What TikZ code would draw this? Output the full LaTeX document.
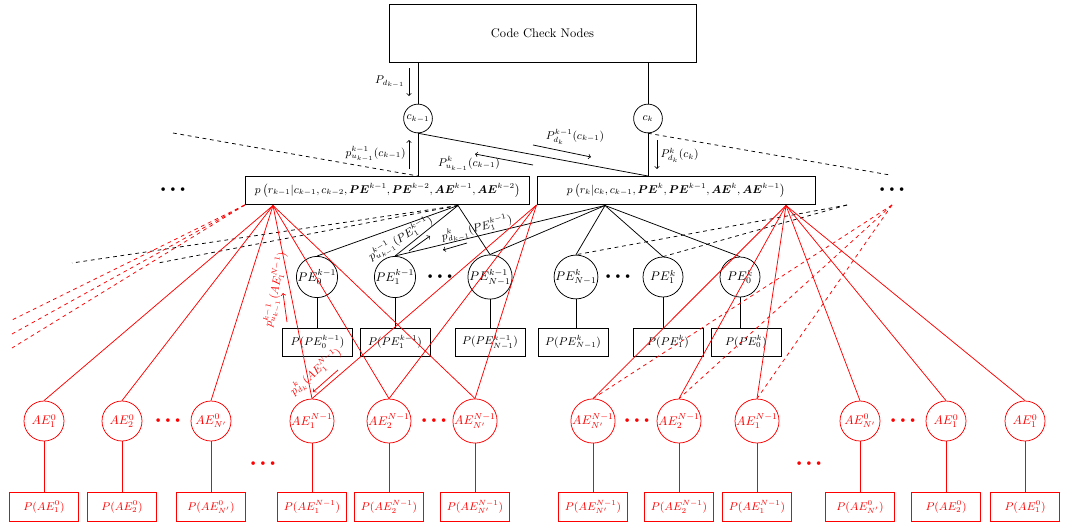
\documentclass[tikz,border=0pt]{standalone}
\usepackage{amsmath,bm}
\begin{document}
\begin{tikzpicture}[x=0.8pt,y=-0.8pt,
  every node/.style={font=\small},
  box/.style={draw,thick,rectangle,inner sep=1pt},
  cn/.style={draw,semithick,circle,minimum size=23pt,inner sep=0pt},
  pe/.style={draw,semithick,circle,minimum size=32pt,inner sep=0pt,font=\normalsize},
  pbox/.style={draw,thick,minimum width=56pt,minimum height=22.4pt,inner sep=1pt},
  ae/.style={draw=red,text=red,semithick,circle,minimum size=32pt,inner sep=0pt,font=\normalsize},
  abox/.style={draw=red,text=red,thick,minimum width=55pt,minimum height=23pt,inner sep=1pt},
  ln/.style={semithick},
  rln/.style={semithick,red},
  dln/.style={semithick,dashed},
  rdln/.style={semithick,red,dashed},
  lab/.style={inner sep=1pt},
  rlab/.style={inner sep=1pt,text=red},
  arr/.style={semithick,->},
  rarr/.style={semithick,->,red},
  dotsn/.style={inner sep=0pt,font=\normalsize},
  rdotsn/.style={inner sep=0pt,text=red,font=\normalsize}
]
\useasboundingbox (0,0) rectangle (1069,526);

% top
\node[box,minimum width=245.6pt,minimum height=46.4pt,font=\normalsize] (ccn) at (542.5,33) {Code Check Nodes};
\node[cn] (ckm1) at (418,118.5) {$c_{k-1}$};
\node[cn] (ck) at (648,118.5) {$c_k$};

% factor boxes
\node[box,minimum width=227.5pt,minimum height=22.4pt] (fl) at (387.5,190.5)
  {$p\left(r_{k-1}|c_{k-1},c_{k-2},\bm{PE}^{k-1},\bm{PE}^{k-2},\bm{AE}^{k-1},\bm{AE}^{k-2}\right)$};
\node[box,minimum width=222.4pt,minimum height=22.4pt] (fr) at (676,190.5)
  {$p\left(r_k|c_k,c_{k-1},\bm{PE}^k,\bm{PE}^{k-1},\bm{AE}^k,\bm{AE}^{k-1}\right)$};

\node[dotsn] (dl) at (173,190) {\textbullet\textbullet\textbullet};
\node[dotsn] (dr) at (892,190) {\textbullet\textbullet\textbullet};

% connection points
\coordinate (flred) at (273,205.5);
\coordinate (flblk) at (458,205.5);
\coordinate (frred) at (fr.south west);
\coordinate (frblk) at (605,205.5);
\coordinate (frred2) at (786,205.5);
\coordinate (frdash) at (847,205);
\coordinate (rdash) at (892,205);
\coordinate (ld1) at (12,320);
\coordinate (ld2) at (12,334);
\coordinate (ld3) at (12,348);
\coordinate (lb1) at (72,263);
\coordinate (lb2) at (158,263);
\coordinate (tl) at (173,133);
\coordinate (tr) at (890,175);

% PE nodes
\node[pe] (pe0a) at (317,277) {$PE_0^{k-1}$};
\node[pe] (pe1a) at (395,277) {$PE_1^{k-1}$};
\node[pe] (peNa) at (490,277) {$PE_{N-1}^{k-1}$};
\node[pe] (peNb) at (576,277) {$PE_{N-1}^{k}$};
\node[pe] (pe1b) at (663,277) {$PE_1^{k}$};
\node[pe] (pe0b) at (740,277) {$PE_0^{k}$};
\node[dotsn] (dpa) at (440,277) {\textbullet\textbullet\textbullet};
\node[dotsn] (dpb) at (618,277) {\textbullet\textbullet\textbullet};

\node[pbox] (pp0a) at (317.5,342) {$P(PE_0^{k-1})$};
\node[pbox] (pp1a) at (395,342) {$P(PE_1^{k-1})$};
\node[pbox] (ppNa) at (490,342) {$P(PE_{N-1}^{k-1})$};
\node[pbox] (ppNb) at (573,342) {$P(PE_{N-1}^{k})$};
\node[pbox] (pp1b) at (668,342) {$P(PE_1^{k})$};
\node[pbox] (pp0b) at (746,342) {$P(PE_0^{k})$};

% AE nodes
\node[ae] (ae01) at (44,421) {$AE_1^{0}$};
\node[ae] (ae02) at (122,421) {$AE_2^{0}$};
\node[ae] (ae0N) at (211,421) {$AE_{N'}^{0}$};
\node[ae] (aeN1) at (312,421) {$AE_1^{N-1}$};
\node[ae] (aeN2) at (389,421) {$AE_2^{N-1}$};
\node[ae] (aeNN) at (475,421) {$AE_{N'}^{N-1}$};
\node[ae] (bNN) at (593,421) {$AE_{N'}^{N-1}$};
\node[ae] (bN2) at (679,421) {$AE_2^{N-1}$};
\node[ae] (bN1) at (757,421) {$AE_1^{N-1}$};
\node[ae] (b0N) at (860,421) {$AE_{N'}^{0}$};
\node[ae] (b01) at (946,421) {$AE_1^{0}$};
\node[ae] (b01b) at (1025,421) {$AE_1^{0}$};
\node[rdotsn] (dal) at (168,421) {\textbullet\textbullet\textbullet};
\node[rdotsn] (dam) at (434,421) {\textbullet\textbullet\textbullet};
\node[rdotsn] (dbm) at (637,421) {\textbullet\textbullet\textbullet};
\node[rdotsn] (dbr) at (903,421) {\textbullet\textbullet\textbullet};
\node[rdotsn] (dbl1) at (263,464) {\textbullet\textbullet\textbullet};
\node[rdotsn] (dbl2) at (809,464) {\textbullet\textbullet\textbullet};

\node[abox] (pa01) at (44,507) {$P(AE_1^{0})$};
\node[abox] (pa02) at (122,507) {$P(AE_2^{0})$};
\node[abox] (pa0N) at (211,507) {$P(AE_{N'}^{0})$};
\node[abox] (paN1) at (312,507) {$P(AE_1^{N-1})$};
\node[abox] (paN2) at (389,507) {$P(AE_2^{N-1})$};
\node[abox] (paNN) at (475,507) {$P(AE_{N'}^{N-1})$};
\node[abox] (pbNN) at (593,507) {$P(AE_{N'}^{N-1})$};
\node[abox] (pbN2) at (679,507) {$P(AE_2^{N-1})$};
\node[abox] (pbN1) at (757,507) {$P(AE_1^{N-1})$};
\node[abox] (pb0N) at (860,507) {$P(AE_{N'}^{0})$};
\node[abox] (pb02) at (946,507) {$P(AE_2^{0})$};
\node[abox] (pb01) at (1025,507) {$P(AE_1^{0})$};

% top connectors
\draw[ln] (ccn.south -| ckm1) -- (ckm1);
\draw[ln] (ckm1) -- (fl.north -| ckm1);
\draw[ln] (ccn.south -| ck) -- (ck);
\draw[ln] (ck) -- (fr.north -| ck);
\draw[ln] (ckm1.south) -- (fr.north -| ck);
\draw[dln] (tl) -- (fl.north -| ckm1);
\draw[dln] (ck.south) -- (tr);

% black PE connectors
\foreach \t in {pe0a,pe1a,peNa} \draw[ln] (flblk) -- (\t.north);
\foreach \t in {pe1a,peNa,peNb,pe1b,pe0b} \draw[ln] (frblk) -- (\t.north);
\draw[dln] (flblk) -- (lb1);
\draw[dln] (flblk) -- (lb2);
\foreach \t in {peNb,pe1b} \draw[dln] (frdash) -- (\t.north);
\foreach \a/\b in {pe0a/pp0a,pe1a/pp1a,peNa/ppNa,peNb/ppNb,pe1b/pp1b,pe0b/pp0b}
  \draw[ln] (\a) -- (\a |- \b.north);

% red connectors
\foreach \t in {ae01,ae02,ae0N,aeN1,aeN2,aeNN} \draw[rln] (flred) -- (\t.north);
\foreach \t in {aeN1,aeN2,aeNN} \draw[rln] (frred) -- (\t.north);
\foreach \t in {bNN,bN2,bN1,b0N,b01,b01b} \draw[rln] (frred2) -- (\t.north);
\foreach \t in {bNN,bN2,bN1} \draw[rdln] (rdash) -- (\t.north);
\foreach \t in {ld1,ld2,ld3} \draw[rdln] (fl.south west) -- (\t);
\foreach \a/\b in {ae01/pa01,ae02/pa02,ae0N/pa0N,aeN1/paN1,aeN2/paN2,aeNN/paNN,bNN/pbNN,bN2/pbN2,bN1/pbN1,b0N/pb0N,b01/pb02,b01b/pb01}
  \draw[rln] (\a) -- (\b);

% message labels
\node[lab,anchor=east] (l1) at (406,82) {$P_{d_{k-1}}$};
\draw[arr] (409,68) -- (409,96);
\node[lab,anchor=east] (l2) at (407,154) {$p^{k-1}_{u_{k-1}}(c_{k-1})$};
\draw[arr] (409,169) -- (409,140);
\node[lab] (l3) at (575,137) {$P^{k-1}_{d_k}(c_{k-1})$};
\draw[arr] (533,145) -- (591,157);
\node[lab] (l4) at (469,164) {$P^{k}_{u_{k-1}}(c_{k-1})$};
\draw[arr] (533,165) -- (475,154);
\node[lab,anchor=west] (l5) at (659,155) {$P^{k}_{d_k}(c_k)$};
\draw[arr] (657,140) -- (657,169);

\node[lab,rotate=32] (l6) at (401,239) {$p^{k-1}_{u_{k-1}}(PE_1^{k-1})$};
\draw[arr] (409,251) -- (430,236);
\node[lab,rotate=15] (l7) at (477,229) {$p^{k}_{d_{k-1}}(PE_1^{k-1})$};
\draw[arr] (467,243) -- (443,250);

\node[rlab,rotate=79] (l8) at (276,290) {$p^{k-1}_{u_{k-1}}(AE_1^{N-1})$};
\draw[rarr] (287,322) -- (283,293);
\node[rlab,rotate=41] (l9) at (316,372) {$p^{k}_{d_k}(AE_1^{N-1})$};
\draw[rarr] (338,370) -- (313,392);
\end{tikzpicture}
\end{document}
